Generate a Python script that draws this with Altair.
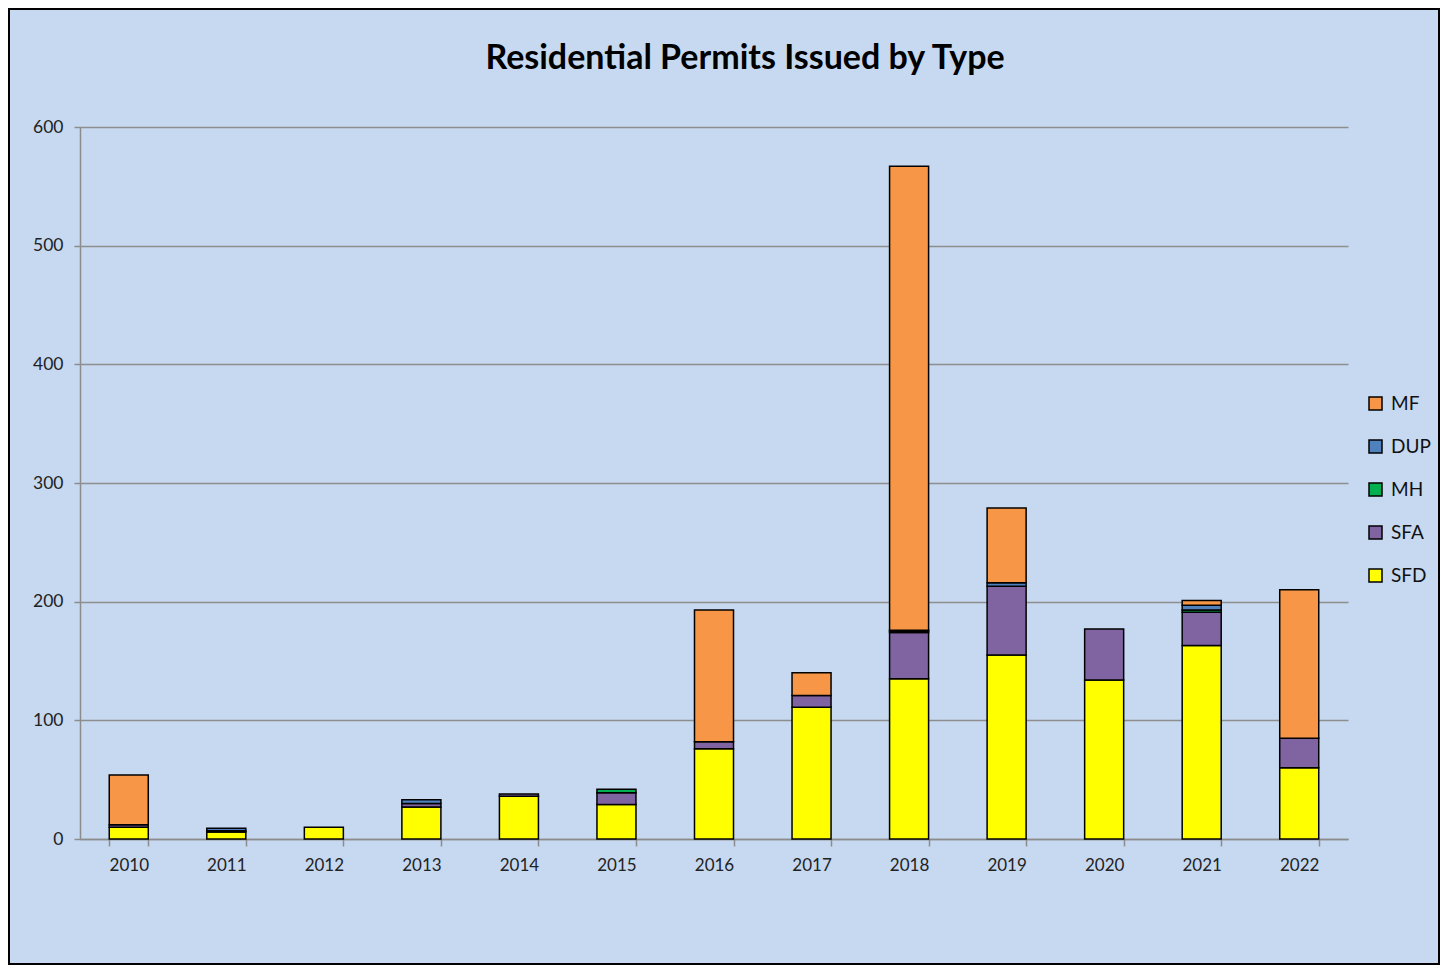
import altair as alt
import pandas as pd

years = ["2010", "2011", "2012", "2013", "2014", "2015", "2016",
         "2017", "2018", "2019", "2020", "2021", "2022"]
sfd = [10, 6, 10, 27, 36, 29, 76, 111, 135, 155, 134, 163, 60]
sfa = [2, 1, 0, 3, 2, 10, 6, 10, 39, 58, 43, 28, 25]
mh = [0, 0, 0, 0, 0, 3, 0, 0, 1, 0, 0, 2, 0]
dup = [0, 2, 0, 3, 0, 0, 0, 0, 1, 3, 0, 4, 0]
mf = [42, 0, 0, 0, 0, 0, 111, 19, 391, 63, 0, 4, 125]

types = ["SFD", "SFA", "MH", "DUP", "MF"]
series = {"SFD": sfd, "SFA": sfa, "MH": mh, "DUP": dup, "MF": mf}
legend_order = ["MF", "DUP", "MH", "SFA", "SFD"]
colors = ["#F79646", "#4F81BD", "#00B050", "#8064A2", "#FFFF00"]
title_text = "Residential Permits Issued by Type"

rows = []
for i, y in enumerate(years):
    for k, t in enumerate(types):
        v = series[t][i]
        if v > 0:
            rows.append({"Year": y, "Type": t, "Permits": v, "ord": k})
df = pd.DataFrame(rows)

FONT = "Lato"
W, H = 1268, 712
PL, PT, PR, PB = 72, 119, 92, 126

bars = alt.Chart(df).mark_bar(stroke="black", strokeWidth=1.5).encode(
    x=alt.X("Year:N", sort=years, title=None,
            scale=alt.Scale(paddingInner=0.6, paddingOuter=0.3),
            axis=alt.Axis(labelAngle=0, tickBand="extent", domainColor="#8C8C8C",
                          tickColor="#8C8C8C", tickSize=7, tickWidth=1.5, domainWidth=1.5,
                          labelFontSize=17, labelColor="#222", labelFont=FONT,
                          labelPadding=11, grid=False)),
    y=alt.Y("Permits:Q", stack="zero", title=None,
            scale=alt.Scale(domain=[0, 600]),
            axis=alt.Axis(values=[0, 100, 200, 300, 400, 500, 600], grid=True,
                          gridColor="#8E8E8E", gridWidth=1.5, domainColor="#8C8C8C",
                          domainWidth=1.5, tickColor="#8C8C8C", tickSize=6, tickWidth=1.5,
                          labelFontSize=17.5, labelColor="#222", labelFont=FONT,
                          labelPadding=11)),
    color=alt.Color("Type:N", scale=alt.Scale(domain=legend_order, range=colors),
                    sort=legend_order,
                    legend=alt.Legend(title=None, orient="none", legendX=1286, legendY=267,
                                      symbolType="square", symbolSize=169,
                                      symbolStrokeColor="black", symbolStrokeWidth=1.5,
                                      labelFontSize=19, labelFont=FONT, labelColor="#111",
                                      labelOffset=6, rowPadding=23)),
    order=alt.Order("ord:Q", sort="ascending"),
)

title = alt.Chart(alt.Data(values=[{"t": title_text}])).mark_text(
    font=FONT, fontSize=34, fontWeight="bold", color="black",
    align="center", baseline="alphabetic"
).encode(
    x=alt.value(665), y=alt.value(-58), text="t:N"
)

border = alt.Chart(alt.Data(values=[{"a": 1}])).mark_rect(
    fill=None, stroke="black", strokeWidth=2
).encode(
    x=alt.value(-PL + 1), x2=alt.value(W + PR - 1),
    y=alt.value(-PT + 1), y2=alt.value(H + PB - 1),
)

chart = alt.layer(bars, title, border).properties(
    width=W, height=H,
    autosize=alt.AutoSizeParams(type="none"),
    padding={"left": PL, "top": PT, "right": PR, "bottom": PB},
    background="#C6D9F1",
).configure_view(stroke=None)

chart.save("out.html", embed_options={"renderer": "svg", "actions": False})
